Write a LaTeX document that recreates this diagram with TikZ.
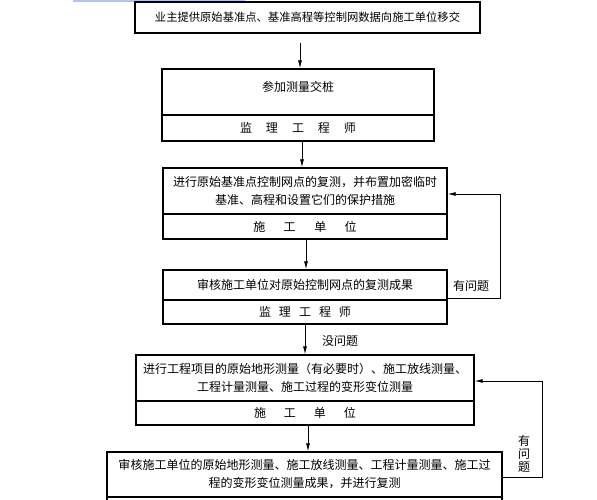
\documentclass[tikz,border=0pt]{standalone}
\usepackage{fontspec}
\setmainfont{Noto Sans CJK SC}
\usetikzlibrary{arrows.meta}
\definecolor{barblue}{RGB}{176,198,230}

\begin{document}
\begin{tikzpicture}[x=1bp,y=-1bp]
 \tikzset{box/.style={draw, line width=1.4bp, inner sep=0pt, align=center, font=\fontsize{12bp}{18bp}\selectfont},
   directed/.style={-{Latex[length=8bp,width=4bp]}, line width=0.8bp},
   note/.style={inner sep=0pt, align=center, font=\fontsize{12bp}{13bp}\selectfont}}
  \useasboundingbox (0,0) rectangle (597,500);
  \clip (0,0) rectangle (597,500);
  \fill[barblue] (73,0) rectangle (245,2.5);
  \node[box, minimum width=345bp, minimum height=31bp, font=\fontsize{11.3bp}{18bp}\selectfont] (owner) at (307.5,17.5) {业主提供原始基准点、基准高程等控制网数据向施工单位移交};
  \node[box, minimum width=272bp, minimum height=46bp, text depth=11.5bp] (handover) at (298,92) {参加测量交桩};
  \node[box, minimum width=272bp, minimum height=26bp] (handoverRole) at (298,128) {监\hspace{14bp}理\hspace{14bp}工\hspace{14bp}程\hspace{14bp}师};
  \node[box, minimum width=284bp, minimum height=46bp] (survey) at (305,191) {进行原始基准点控制网点的复测，并布置加密临时\\基准、高程和设置它们的保护措施};
  \node[box, minimum width=284bp, minimum height=25bp] (surveyRole) at (305,226.5) {施\hspace{18.5bp}工\hspace{18.5bp}单\hspace{18.5bp}位};
  \node[box, minimum width=284bp, minimum height=30bp] (check) at (305,285) {审核施工单位对原始控制网点的复测成果};
  \node[box, minimum width=284bp, minimum height=24bp] (checkRole) at (305,312) {监\hspace{8bp}理\hspace{8bp}工\hspace{8bp}程\hspace{8bp}师};
  \node[box, minimum width=338bp, minimum height=46bp] (measure) at (305,378) {进行工程项目的原始地形测量（有必要时）、施工放线测量、\\工程计量测量、施工过程的变形变位测量};
  \node[box, minimum width=338bp, minimum height=24bp] (measureRole) at (305,413) {施\hspace{18bp}工\hspace{18bp}单\hspace{18bp}位};
  \node[box, minimum width=395bp, minimum height=45bp] (review) at (304.5,474.5) {审核施工单位的原始地形测量、施工放线测量、工程计量测量、施工过\\程的变形变位测量成果，并进行复测};
  \node[box, minimum width=395bp, minimum height=33bp] (reviewRole) at (304.5,513.5) {};
  \node[note] (okNote) at (340,341) {没问题};
  \node[note] (redoNote) at (471,286) {有问题};
  \node[note] (redoNoteB) at (524,454) {有\\问\\题};
  \draw[directed, shorten <=9bp] ([xshift=2bp]handover.north |- owner.south) -- ([xshift=2bp]handover.north);
  \draw[directed] ([xshift=4bp]handoverRole.south) -- ([xshift=4bp]handoverRole.south |- survey.north);
  \draw[directed] ([xshift=1bp]surveyRole.south) -- ([xshift=1bp]check.north);
  \draw[directed] (checkRole.south) -- (measure.north);
  \draw[directed] ([xshift=3bp]measureRole.south) -- ([xshift=3bp]measureRole.south |- review.north);
  \draw[directed] ([yshift=2.5bp]check.south east) -- ++(53,0) |- ([yshift=-3bp]survey.east);
  \draw[directed] ([yshift=-2.5bp]review.east) -- ++(40,0) |- ([yshift=-3bp]measure.east);
\end{tikzpicture}
\end{document}
